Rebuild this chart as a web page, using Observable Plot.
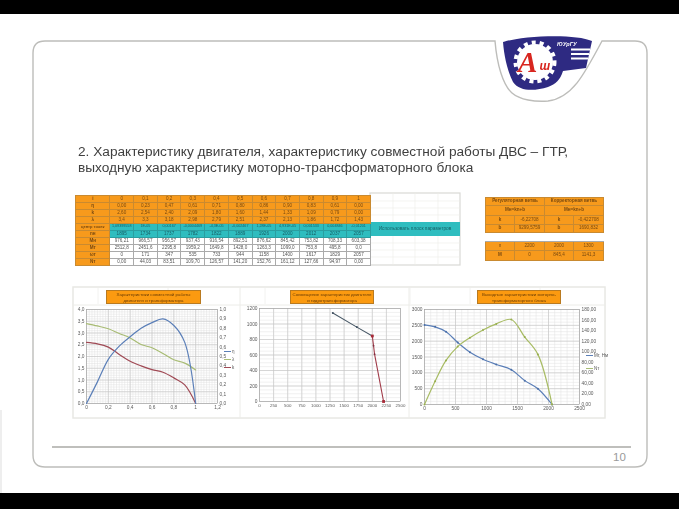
<!DOCTYPE html>
<html lang="ru"><head><meta charset="utf-8">
<script src="https://cdn.jsdelivr.net/npm/d3@7"></script>
<script src="https://cdn.jsdelivr.net/npm/@observablehq/plot@0.6"></script>
<style>
html,body{margin:0;padding:0;background:#fff}
#slide{position:relative;width:679px;height:509px;overflow:hidden;background:#fff;font-family:"Liberation Sans",Arial,sans-serif}
.bar{position:absolute;left:0;width:679px;background:#000}
.abs{position:absolute}
#title{position:absolute;left:78px;top:144px;width:510px;font-size:13.67px;line-height:16px;color:#3f3f3f;white-space:nowrap;filter:blur(.35px)}
table{position:absolute;border-collapse:collapse;table-layout:fixed;font-size:4.6px;color:#444;filter:blur(.5px)}
td{padding:0;text-align:center;overflow:hidden;white-space:nowrap;border:.6px solid #aaa;line-height:1}
.o{background:#f79a1c;border-color:#c98a30;color:#7a4a10}
.t{background:#2fbdbf;border-color:#2a9ea0;color:#175f66}
.w{background:#fff;color:#555}
.ct{position:absolute;background:#fb9a10;border:.8px solid #b97a20;font-size:4.4px;line-height:6px;text-align:center;color:#6b3d05;box-sizing:border-box;padding-top:.6px;white-space:nowrap;filter:blur(.4px)}
.chart{position:absolute;filter:blur(.45px)}
.chart svg{display:block;overflow:visible;background:transparent}
.leg{position:absolute;font-size:4.5px;color:#555;white-space:nowrap;filter:blur(.3px)}
.leg i{display:inline-block;width:7px;height:1px;vertical-align:middle;margin-right:1px}
</style></head><body>
<div id="slide">
<svg class="abs" style="left:0;top:0" width="679" height="509">
  <path d="M33 53 Q33 41 45 41 H495 C497 65 503 85 512 93 C520 100 535 102 548 101 C572 98 584 75 602 41 H635 Q647 41 647 53 V455 Q647 467 635 467 H45 Q33 467 33 455 Z" fill="#fff" stroke="#bdbdba" stroke-width="1.4"/>
  <g style="filter:blur(.4px)">
  <path d="M503 42 C520 36 575 33 592 41 L586 68 L563 71 C560 80 556 84 548 87 C535 91 520 92 513 82 C507 70 504 55 503 42 Z" fill="#2e2a82"/>
  <circle cx="535" cy="62" r="18" fill="#fff"/>
  <circle cx="535" cy="62" r="19.5" fill="none" stroke="#fff" stroke-width="4" stroke-dasharray="4 4"/>
  <text x="518" y="72" font-family="Liberation Serif,serif" font-style="italic" font-weight="700" font-size="29" fill="#d8261f">А</text>
  <text x="539.5" y="70" font-family="Liberation Sans,sans-serif" font-style="italic" font-weight="700" font-size="12" fill="#d8261f">ш</text>
  <text x="557" y="46" font-family="Liberation Sans,sans-serif" font-style="italic" font-weight="700" font-size="5.5" fill="#fff">ЮУрГУ</text>
  <path d="M571 49.5H590M571 54H589M571 58.5H588" stroke="#fff" stroke-width="1.8"/>
  </g>
  <rect x="73" y="287" width="532" height="131" fill="none" stroke="#e8e8e4" stroke-width="1.5"/>
  <path d="M240 287V418M409 287V418M73 305H605" stroke="#ecece8" stroke-width="1"/>
  <path d="M98 288V304M168 288V304M265 288V304M410 288V304M470 288V304M540 288V304" stroke="#efefec" stroke-width=".8"/>
  <rect x="370" y="193" width="90" height="72" fill="#fff" stroke="#d9d9d5" stroke-width="1.2"/>
  <path d="M393 193V265M415 193V265M438 193V265M370 201H460M370 208H460M370 215H460M370 243H460M370 250H460M370 257H460" stroke="#ecece8" stroke-width=".6"/>
  <rect x="52" y="446" width="579" height="2" fill="#bfbfbc"/>
  <rect x="0.5" y="410" width="1" height="83" fill="#dedede"/>
  <text x="613" y="461" font-family="Liberation Sans,sans-serif" font-size="11.5" fill="#9a9a9a">10</text>
</svg>
<div class="bar" style="top:0;height:14px"></div>
<div class="bar" style="top:493px;height:16px"></div>
<div id="title">2. Характеристику двигателя, характеристику совместной работы ДВС – ГТР,<br>выходную характеристику моторно-трансформаторного блока</div>
<div class="abs t" style="left:370px;top:222px;width:90px;height:14px;background:#2fbdbf;font-size:4.8px;line-height:14px;text-align:center;color:#175f66;filter:blur(.4px)">Использовать плоск параметров</div>
<div id="t1"></div><div id="t2"></div>
<div class="ct" style="left:106px;top:290px;width:95px;height:14px">Характеристики совместной работы<br>двигателя и трансформатора</div>
<div class="ct" style="left:290px;top:290px;width:84px;height:14px">Совмещение характеристик двигателя<br>и гидротрансформатора</div>
<div class="ct" style="left:477px;top:290px;width:84px;height:14px">Выходные характеристики моторно-<br>трансформаторного блока</div>
<div class="chart" id="c1" style="left:72px;top:304px"></div>
<div class="chart" id="c2" style="left:245px;top:304px"></div>
<div class="chart" id="c3" style="left:410px;top:304px"></div>
<div class="leg" style="left:224px;top:349px"><i style="background:#5b7fb8"></i>η</div>
<div class="leg" style="left:224px;top:357px"><i style="background:#a8bc74"></i>λ</div>
<div class="leg" style="left:224px;top:365px"><i style="background:#a04a55"></i>k</div>
<div class="leg" style="left:586px;top:353px"><i style="background:#5b7fb8"></i>Мт, Нм</div>
<div class="leg" style="left:586px;top:366px"><i style="background:#a8bc74"></i>Nт</div>
</div>
<script>
// Top table
const iRow   = ["0","0,1","0,2","0,3","0,4","0,5","0,6","0,7","0,8","0,9","1"];
const etaRow = ["0,00","0,23","0,47","0,61","0,71","0,80","0,86","0,90","0,83","0,61","0,00"];
const kRow   = ["2,60","2,54","2,40","2,09","1,80","1,60","1,44","1,33","1,09","0,79","0,00"];
const lamRow = ["3,4","3,3","3,18","2,98","2,79","2,51","2,37","2,13","1,86","1,72","1,43"];
const pointRow = ["1,09399558","1E-05","0,00167","-0,0004469","-4,3E-05","-0,002467","1,28E-05","4,931E-05","0,001533","0,004846","-0,01201"];
const nRow   = ["1895","1734","1737","1782","1822","1889","1926","2000","2012","2037","2057"];
const mnRow  = ["976,21","966,57","956,57","937,43","916,54","892,51","876,62","845,42","753,82","708,33","603,38"];
const mtRow  = ["2512,8","2451,6","2295,8","1959,2","1649,8","1428,0","1263,3","1099,0","753,8","495,8","0,0"];
const wRow   = ["0","171","347","535","733","944","1158","1400","1617","1829","2057"];
const ntRow  = ["0,00","44,03","83,51","109,70","126,57","141,20","152,76","161,12","127,66","94,97","0,00"];
const rowLabels = ["i","η","k","λ","центр точек","nн","Mн","Mт","ωт","Nт"];

// Chart 1 series
const iVals   = [0,.1,.2,.3,.4,.5,.6,.7,.8,.9,1];
const etaVals = [0,.23,.47,.61,.71,.8,.86,.9,.83,.65,0];
const kVals   = [2.6,2.54,2.4,2.09,1.8,1.6,1.44,1.33,1.09,.79,0];
const lamVals = [3.4,3.3,3.18,2.98,2.79,2.51,2.37,2.13,1.86,1.72,1.43];
// Chart 2 series
const regN = [2000,2022,2040,2200];
const regM = [845,720,610,0];
const corN = [1300,1726,2000];
const corM = [1141,960,845];
// Chart 3 series
const wVals  = [0,171,347,535,733,944,1158,1400,1617,1829,2057];
const mtVals = [2512.8,2451.6,2295.8,1959.2,1649.8,1428,1263.3,1099,753.8,495.8,0];
const ntVals = [0,44.03,83.51,109.7,126.57,141.2,152.76,161.12,127.66,94.97,0];

// Right table
const tblK = ["-6,22708","-0,422708"];
const tblB = ["9299,5759","1690,832"];
const tblN = ["2200","2000","1300"];
const tblM = ["0","845,4","1141,3"];

const comma = n => d => d3.format(`.${n}f`)(d).replace(".",",");

function buildTop(){
  const rows=[iRow,etaRow,kRow,lamRow,pointRow,nRow,mnRow,mtRow,wRow,ntRow];
  const cls=["o","o","o","o","t","t","w","w","w","w"];
  let h='<table style="left:75px;top:195px;width:295px"><colgroup><col style="width:34.4px">';
  for(let i=0;i<11;i++)h+='<col style="width:23.7px">';
  h+='</colgroup>';
  rows.forEach((r,j)=>{
    h+=`<tr style="height:7px"><td class="o" style="font-weight:700;font-size:${j==4?4:4.6}px">${rowLabels[j]}</td>`;
    r.forEach(v=>h+=`<td class="${cls[j]}" style="${j==4?'font-size:3.7px':''}">${v}</td>`);
    h+='</tr>';
  });
  document.getElementById("t1").innerHTML=h+'</table>';
}
function buildRight(){
  let h='<table style="left:485px;top:197px;width:118px"><colgroup><col style="width:29px"><col style="width:30px"><col style="width:29px"><col style="width:30px"></colgroup>';
  h+='<tr style="height:8px"><td class="o" colspan="2" style="font-weight:700">Регуляторная ветвь</td><td class="o" colspan="2" style="font-weight:700">Корректорная ветвь</td></tr>';
  h+='<tr style="height:10px"><td class="o" colspan="2" style="font-weight:700">Mн=kn+b</td><td class="o" colspan="2" style="font-weight:700">Mн=kn+b</td></tr>';
  h+=`<tr style="height:9px"><td class="o" style="font-weight:700">k</td><td class="o">${tblK[0]}</td><td class="o" style="font-weight:700">k</td><td class="o">${tblK[1]}</td></tr>`;
  h+=`<tr style="height:8px"><td class="o" style="font-weight:700">b</td><td class="o">${tblB[0]}</td><td class="o" style="font-weight:700">b</td><td class="o">${tblB[1]}</td></tr>`;
  h+='<tr style="height:9px"><td class="w" colspan="4" style="border-left:0;border-right:0"></td></tr>';
  h+=`<tr style="height:9px"><td class="o">n</td>${tblN.map(v=>`<td class="o">${v}</td>`).join("")}</tr>`;
  h+=`<tr style="height:10px"><td class="o" style="font-weight:700">M</td>${tblM.map(v=>`<td class="o">${v}</td>`).join("")}</tr>`;
  document.getElementById("t2").innerHTML=h+'</table>';
}
buildTop();buildRight();

const minor="#e0e0e0", major="#c4c4c4", labelC="#5a5a5a";
const seq=(a,b,s)=>d3.range(0,Math.round((b-a)/s)+1).map(i=>a+i*s);
function gridMarks(xMinor,yMinor,xMajor,yMajor){
  return [
    Plot.gridX(xMinor,{stroke:minor,strokeOpacity:1,strokeWidth:.5}),
    Plot.gridY(yMinor,{stroke:minor,strokeOpacity:1,strokeWidth:.5}),
    Plot.gridX(xMajor,{stroke:major,strokeOpacity:1,strokeWidth:.6}),
    Plot.gridY(yMajor,{stroke:major,strokeOpacity:1,strokeWidth:.6}),
    Plot.frame({stroke:"#a4a4a4",strokeWidth:.6})
  ];
}
const ax=(o)=>({tickSize:0,tickPadding:2,fontSize:4.8,label:null,fill:labelC,...o});
const base=(w,h,ml,mr,mt,mb,xd,yd)=>({width:w,height:h,marginLeft:ml,marginRight:mr,marginTop:mt,marginBottom:mb,
  x:{domain:xd},y:{domain:yd},style:{background:"transparent",fontFamily:"Liberation Sans,sans-serif"}});
const idx=d3.range(11);
const plain=d=>String(d);

// Chart 1
document.getElementById("c1").append(Plot.plot({...base(150,112,14,5,5,13,[0,1.2],[0,4]),marks:[
  ...gridMarks(seq(0,1.2,.025),seq(0,4,.1),seq(0,1.2,.2),seq(0,4,.5)),
  Plot.axisX(ax({ticks:seq(0,1.2,.2),tickFormat:d=>d===0?"0":d===1?"1":comma(1)(d)})),
  Plot.axisY(ax({ticks:seq(0,4,.5),tickFormat:comma(1)})),
  Plot.axisY(ax({anchor:"right",ticks:seq(0,4,.4),tickFormat:d=>comma(1)(d/4)})),
  Plot.line(idx,{x:i=>iVals[i],y:i=>lamVals[i],stroke:"#a8bc74",strokeWidth:1.2,curve:"catmull-rom"}),
  Plot.line(idx,{x:i=>iVals[i],y:i=>kVals[i],stroke:"#a04a55",strokeWidth:1.2,curve:"catmull-rom"}),
  Plot.line(idx,{x:i=>iVals[i],y:i=>etaVals[i]*4,stroke:"#5b7fb8",strokeWidth:1.2,curve:"catmull-rom"})
]}));

// Chart 2
document.getElementById("c2").append(Plot.plot({...base(160,112,14,5,4,15,[0,2500],[0,1200]),marks:[
  ...gridMarks(seq(0,2500,250),seq(0,1200,50),seq(0,2500,250),seq(0,1200,200)),
  Plot.axisX(ax({ticks:seq(0,2500,250),tickFormat:plain,fontSize:4.4})),
  Plot.axisY(ax({ticks:seq(0,1200,200),tickFormat:plain})),
  Plot.line(d3.range(corN.length),{x:i=>corN[i],y:i=>corM[i],stroke:"#4a5a68",strokeWidth:1.1}),
  Plot.dot(d3.range(corN.length),{x:i=>corN[i],y:i=>corM[i],r:1,fill:"#3f4f60"}),
  Plot.line(d3.range(regN.length),{x:i=>regN[i],y:i=>regM[i],stroke:"#a03a48",strokeWidth:1.1}),
  Plot.dot([0,3],{x:i=>regN[i],y:i=>regM[i],r:1.6,symbol:"square",fill:"#a82a38"}),
  Plot.dot([1,2],{x:i=>regN[i],y:i=>regM[i],r:.9,fill:"#803040"})
]}));

// Chart 3
document.getElementById("c3").append(Plot.plot({...base(172,113,14,3,5,13,[0,2500],[0,3000]),marks:[
  ...gridMarks(seq(0,2500,100),seq(0,3000,100),seq(0,2500,500),seq(0,3000,500)),
  Plot.axisX(ax({ticks:seq(0,2500,500),tickFormat:plain})),
  Plot.axisY(ax({ticks:seq(0,3000,500),tickFormat:plain})),
  Plot.axisY(ax({anchor:"right",ticks:seq(0,180,20).map(v=>v*3000/180),tickFormat:d=>comma(2)(d*180/3000)})),
  Plot.line(idx,{x:i=>wVals[i],y:i=>mtVals[i],stroke:"#5b7fb8",strokeWidth:1.2,curve:"catmull-rom"}),
  Plot.dot(idx,{x:i=>wVals[i],y:i=>mtVals[i],r:1,fill:"#4a6fa8"}),
  Plot.line(idx,{x:i=>wVals[i],y:i=>ntVals[i]*3000/180,stroke:"#a8bc64",strokeWidth:1.2,curve:"catmull-rom"}),
  Plot.dot(idx,{x:i=>wVals[i],y:i=>ntVals[i]*3000/180,r:1,fill:"#98ae50"})
]}));
</script>
</body></html>
